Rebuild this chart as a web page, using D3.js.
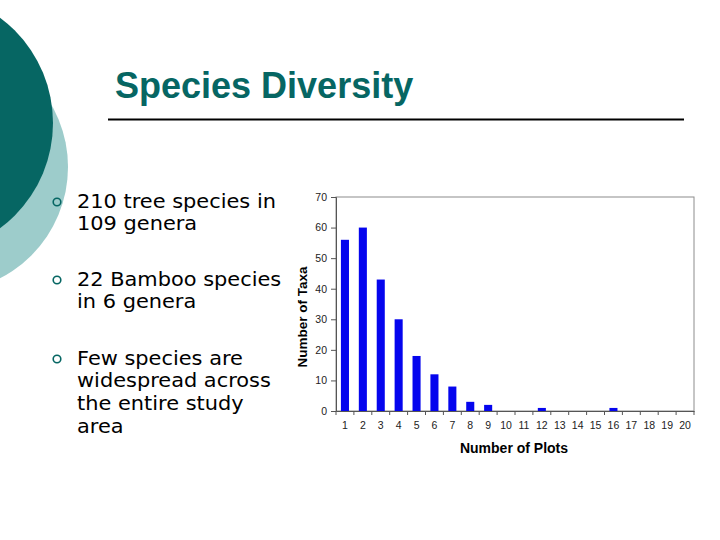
<html>

<body style="margin:0;background:#fff">
    <script src="https://cdn.jsdelivr.net/npm/d3@7/dist/d3.min.js"></script>
    <div id="main"></div>

    <script>
        // chart data
        var plots = ["1", "2", "3", "4", "5", "6", "7", "8", "9", "10",
            "11", "12", "13", "14", "15", "16", "17", "18", "19", "20"];
        var taxa = [56, 60, 43, 30, 18, 12, 8, 3, 2, 0,
            0, 1, 0, 0, 0, 1, 0, 0, 0, 0];
        var yTicks = [0, 10, 20, 30, 40, 50, 60, 70];

        var bullets = [
            ["210 tree species in", "109 genera"],
            ["22 Bamboo species", "in 6 genera"],
            ["Few species are", "widespread across", "the entire study", "area"]
        ];

        var teal = "#066663";

        var svg = d3.select("#main")
            .append("svg")
            .attr("width", 720)
            .attr("height", 540);

        // slide decoration
        svg.append("circle")
            .attr("cx", -57).attr("cy", 167).attr("r", 125)
            .style("fill", "#9dcccb");
        svg.append("circle")
            .attr("cx", -78).attr("cy", 123).attr("r", 131)
            .style("fill", teal);

        // title
        svg.append("text")
            .attr("x", 115).attr("y", 97.5)
            .style("font-family", "Liberation Sans, Arial, sans-serif")
            .style("font-weight", "bold")
            .style("font-size", "36px")
            .style("fill", teal)
            .text("Species Diversity");
        svg.append("line")
            .attr("x1", 108).attr("x2", 684)
            .attr("y1", 119.5).attr("y2", 119.5)
            .style("stroke", "#000").style("stroke-width", 2);

        // bullet list (text a little wider than DejaVu)
        var tops = [207.5, 285.5, 364.5];
        bullets.forEach(function (lines, i) {
            svg.append("circle")
                .attr("cx", 57).attr("cy", tops[i] - 5.5).attr("r", 3.8)
                .style("fill", "none").style("stroke", teal).style("stroke-width", 1.6);
            var t = svg.append("g")
                .attr("transform", "translate(77," + tops[i] + ") scale(1.1,1)")
                .append("text")
                .style("font-family", "DejaVu Sans, Verdana, sans-serif")
                .style("font-size", "19px")
                .style("fill", "#000");
            lines.forEach(function (l, j) {
                t.append("tspan").attr("x", 0).attr("dy", j == 0 ? 0 : 22.7).text(l);
            });
        });

        // chart
        var margin = { left: 336, top: 197 },
            width = 358,
            height = 214;

        var g = svg.append("g")
            .attr("transform", "translate(" + margin.left + "," + margin.top + ")");

        var x = d3.scaleBand().domain(plots).range([0, width]).paddingInner(0.55).paddingOuter(0.275);
        var xb = d3.scaleLinear().domain([0, plots.length]).range([0, width]);
        var y = d3.scaleLinear().domain([0, 70]).range([height, 0]);

        // frame
        g.append("rect")
            .attr("width", width).attr("height", height)
            .style("fill", "none").style("stroke", "#8c8c8c");

        g.selectAll(".bar")
            .data(taxa)
            .enter()
            .append("rect")
            .attr("class", "bar")
            .attr("x", function (d, i) { return x(plots[i]); })
            .attr("width", x.bandwidth())
            .attr("y", function (d) { return y(d); })
            .attr("height", function (d) { return height - y(d); })
            .style("fill", "#0505ee");

        var yAxis = g.append("g")
            .call(d3.axisLeft(y).tickValues(yTicks).tickSize(5).tickPadding(4));
        var xAxis = g.append("g")
            .attr("transform", "translate(0," + height + ")")
            .call(d3.axisBottom(x).tickSize(0).tickPadding(11));
        // boundary ticks between categories
        g.append("g")
            .selectAll("line")
            .data(d3.range(plots.length + 1))
            .enter()
            .append("line")
            .attr("x1", function (d) { return xb(d); })
            .attr("x2", function (d) { return xb(d); })
            .attr("y1", height).attr("y2", height + 4)
            .style("stroke", "#555");

        svg.selectAll(".domain").attr("stroke", "#555");
        svg.selectAll(".tick line").attr("stroke", "#555");
        svg.selectAll(".tick text")
            .style("font-family", "Liberation Sans, Arial, sans-serif")
            .style("font-size", "10.5px")
            .style("fill", "#222");

        // axis titles
        g.append("text")
            .attr("x", width / 2 - 1).attr("y", height + 42)
            .style("text-anchor", "middle")
            .style("font-family", "Liberation Sans, Arial, sans-serif")
            .style("font-weight", "bold")
            .style("font-size", "14px")
            .text("Number of Plots");
        g.append("text")
            .attr("transform", "rotate(-90)")
            .attr("x", -(height / 2) - 13).attr("y", -29)
            .style("text-anchor", "middle")
            .style("font-family", "Liberation Sans, Arial, sans-serif")
            .style("font-weight", "bold")
            .style("font-size", "13.5px")
            .text("Number of Taxa");
    </script>
</body>

</html>
